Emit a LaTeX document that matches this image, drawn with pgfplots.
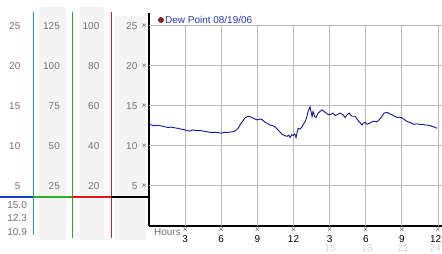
\documentclass[border=0pt]{standalone}
\usepackage{fontspec}
\setmainfont{Liberation Sans}
\usepackage{pgfplots}
\pgfplotsset{compat=1.18}
\definecolor{bandc}{HTML}{F4F4F4}
\definecolor{gridc}{HTML}{B8B8B8}
\definecolor{labc}{HTML}{707070}
\definecolor{faintc}{HTML}{D4D4D4}
\definecolor{lineb}{HTML}{14148C}
\definecolor{vblue}{HTML}{2A98D0}
\definecolor{hblue}{HTML}{1A3CD0}
\definecolor{vgreen}{HTML}{30A030}
\definecolor{hgreen}{HTML}{28B028}
\definecolor{vred}{HTML}{C02828}
\definecolor{hred}{HTML}{E01818}
\definecolor{legred}{HTML}{A01818}
\definecolor{legblue}{HTML}{2236BB}
\newcommand{\tk}{{\fontsize{7}{7}\selectfont$\times$}}
\begin{document}
\fontsize{10}{12}\selectfont
\begin{tikzpicture}[x=1bp,y=1bp]
\path[use as bounding box] (0,0) rectangle (442,253);
% left panel bands
\fill[bandc] (39,13) rectangle (66,246);
\fill[bandc] (80,13) rectangle (104,246);
\fill[bandc] (115,13) rectangle (146,237);
% coloured verticals
\draw[line width=1bp, vblue] (33,18) -- (33,241);
\draw[line width=1bp, vgreen] (72,15) -- (72,241);
\draw[line width=1bp, vred] (111,15) -- (111,241);
% coloured horizontal baseline
\draw[line width=2bp, hblue] (0,56) -- (33,56);
\draw[line width=2bp, hgreen] (33,56) -- (72,56);
\draw[line width=2bp, hred] (72,56) -- (111,56);
\draw[line width=2bp, black] (111,56) -- (149,56);
% left panel labels
\foreach \y/\a/\b/\c/\d in {227/25/125/100/25, 187/20/100/80/20, 147/15/75/60/15, 107/10/50/40/10, 67/5/25/20/5}{
  \node[anchor=east, labc, inner sep=0pt] at (20.5,\y) {\a};
  \node[anchor=east, labc, inner sep=0pt] at (60,\y) {\b};
  \node[anchor=east, labc, inner sep=0pt] at (99.5,\y) {\c};
  \node[anchor=east, labc, inner sep=0pt] at (137.5,\y) {\d};
}
\node[anchor=east, labc, inner sep=0pt] at (27,48) {15.0};
\node[anchor=east, labc, inner sep=0pt] at (27,35) {12.3};
\node[anchor=east, labc, inner sep=0pt] at (27,21) {10.9};

\begin{axis}[
  at={(149bp,27bp)}, anchor=south west,
  scale only axis, width=293bp, height=213bp,
  xmin=0, xmax=24.33, ymin=0, ymax=26.6,
  axis x line*=bottom, axis y line*=left,
  axis line style={black, line width=1.3bp, -},
  xtick={3,6,9,12,15,18,21,24},
  xticklabels={3,6,9,12,3,6,9,{\hspace*{-5bp}12}},
  xticklabel style={inner sep=0pt, anchor=center, yshift=-13bp, font=\fontsize{10}{12}\selectfont},
  extra x ticks={3,6,9,12,15,18,21,24},
  extra x tick labels={\tk,\tk,\tk,\tk,\tk,\tk,\tk,\tk},
  extra x tick style={xticklabel style={yshift=9bp}},
  ytick={5,10,15,20,25},
  yticklabel={\tk},
  yticklabel style={inner sep=0pt, xshift=-1.5bp},
  major tick length=0pt,
  clip=false,
]
\pgfplotsinvokeforeach{5,10,15,20,25}{\draw[gridc, line width=1bp] (axis cs:0,#1) -- (axis cs:24.33,#1);}
\pgfplotsinvokeforeach{3,6,9,12,15,18,21,24}{\draw[gridc, line width=1bp] (axis cs:#1,0) -- (axis cs:#1,25);}
\addplot[lineb, line width=0.9bp] table {
x y
0.00 12.7
0.25 12.6
0.50 12.5
0.75 12.6
1.00 12.5
1.30 12.4
1.58 12.3
1.85 12.35
2.16 12.25
2.40 12.2
2.66 12.1
2.90 12.05
3.16 11.9
3.40 11.85
3.60 12.0
3.82 11.95
4.32 11.9
4.70 11.8
5.07 11.7
5.48 11.7
5.75 11.65
5.98 11.6
6.30 11.7
6.56 11.7
7.06 11.8
7.25 12.0
7.39 12.2
7.64 12.8
7.97 13.5
8.20 13.7
8.39 13.65
8.55 13.55
8.75 13.4
8.97 13.25
9.20 13.35
9.39 13.3
9.63 12.95
9.85 12.8
10.05 12.6
10.25 12.55
10.47 12.4
10.71 12.0
10.90 11.7
11.05 11.45
11.25 11.3
11.46 11.2
11.60 11.35
11.71 11.05
11.85 11.4
11.96 11.3
12.10 11.5
12.21 11.05
12.38 12.2
12.55 12.1
12.71 12.4
12.85 12.8
12.96 13.0
13.10 13.6
13.21 14.3
13.37 14.9
13.54 13.65
13.62 14.3
13.75 13.7
13.87 13.55
14.04 14.1
14.20 14.3
14.37 14.5
14.62 14.2
14.85 13.95
15.03 13.9
15.28 14.1
15.45 13.8
15.61 13.9
15.86 14.1
16.11 13.9
16.28 13.55
16.45 13.9
16.61 14.1
16.86 13.7
17.11 13.7
17.30 13.3
17.44 13.05
17.69 12.6
17.80 12.85
17.94 12.95
18.10 12.7
18.27 12.8
18.50 13.0
18.69 13.1
18.90 13.0
19.10 13.25
19.30 13.6
19.52 14.1
19.77 14.2
20.00 14.0
20.18 13.9
20.40 13.7
20.60 13.55
20.80 13.6
21.01 13.5
21.20 13.3
21.43 13.05
21.70 12.9
22.01 12.7
22.25 12.75
22.51 12.7
22.80 12.65
23.09 12.6
23.30 12.55
23.50 12.45
23.70 12.35
23.92 12.2
};
\end{axis}
% legend
\fill[legred, draw=black!70!legred] (161,233) circle (2.6);
\node[anchor=west, legblue, inner sep=0pt] at (165,233) {Dew Point 08/19/06};
% hours label and secondary hour labels
\node[labc, inner sep=0pt] at (167.5,21) {Hours};
\foreach \x/\t in {330/15, 367/18, 403/21}{
  \node[faintc, inner sep=0pt] at (\x,5) {\t};
}
\node[faintc, inner sep=0pt, anchor=east] at (441,5) {24};
\end{tikzpicture}
\end{document}
